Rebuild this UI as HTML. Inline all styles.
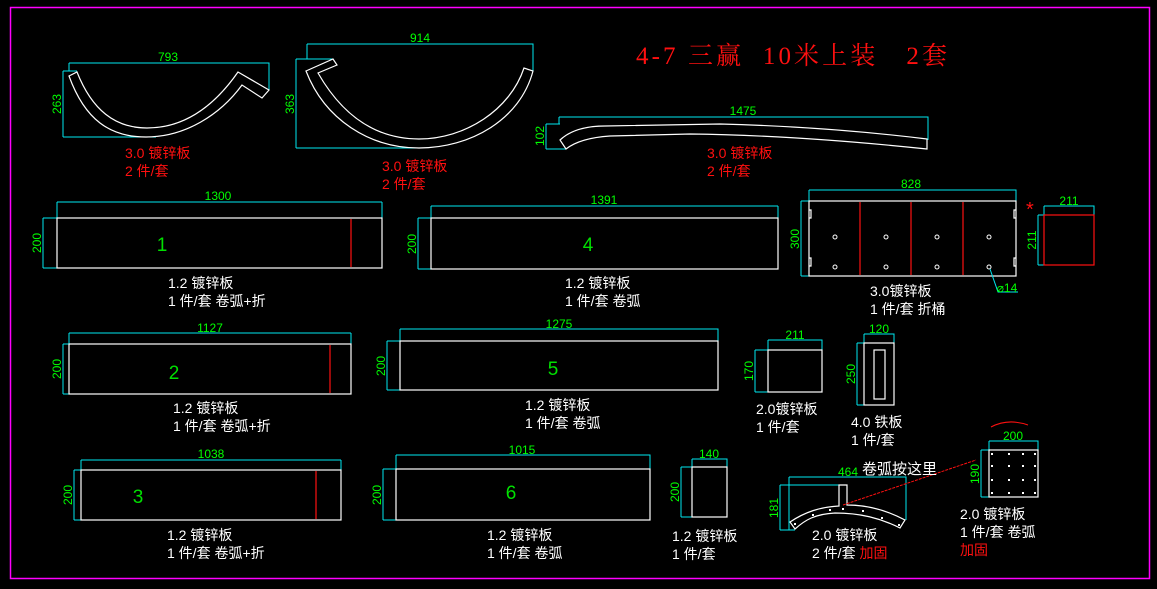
<!DOCTYPE html>
<html><head><meta charset="utf-8"><style>
html,body{margin:0;padding:0;background:#000;}
svg{display:block}
text{font-family:"Liberation Sans","Noto Sans CJK SC",sans-serif;}
.d{fill:#00ff00;font-size:12px;text-anchor:middle}
.w{fill:#fff;font-size:14px}
.r{fill:#ff1010;font-size:14px}
.n{fill:#00e000;font-size:19px;text-anchor:middle}
.c{stroke:#00e8f0;stroke-width:1;fill:none}
.s{stroke:#fff;stroke-width:1.2;fill:none}
.rl{stroke:#ff1010;stroke-width:1.2;fill:none}
</style></head><body>
<svg width="1157" height="589" viewBox="0 0 1157 589" xmlns="http://www.w3.org/2000/svg">
<rect x="0" y="0" width="1157" height="589" fill="#000"/>
<rect x="10.5" y="7.5" width="1139" height="571" fill="none" stroke="#ff00ff" stroke-width="1.5"/>

<text x="636" y="64" fill="#ff1010" font-size="25" textLength="311" lengthAdjust="spacing" style="font-family:'Liberation Serif','Noto Serif CJK SC',serif;white-space:pre" xml:space="preserve">4-7 三赢  10米上装   2套</text>

<!-- Part A 793 -->
<path class="c" d="M69,63 H269 V90 M69,63 V71 M63,71 H77 M63,71 V137 M63,137 H156"/>
<text class="d" x="168" y="61">793</text>
<text class="d" transform="translate(61,104) rotate(-90)">263</text>
<path class="s" d="M69,76 C85,120 110,137 146,137 C185,137 220,115 242,85 L262,98 L269,90 L238,72 C215,105 185,128 147,128 C115,128 92,110 77,72 Z"/>
<text class="r" x="125" y="158">3.0 镀锌板</text>
<text class="r" x="125" y="176">2 件/套</text>

<!-- Part B 914 -->
<path class="c" d="M307,44 H533 V71 M307,44 V59 M296,59 H333 M296,59 V148 M296,148 H419"/>
<text class="d" x="420" y="42">914</text>
<text class="d" transform="translate(294,104) rotate(-90)">363</text>
<path class="s" d="M306,71 L333,59 L337,65 L318,73 C345,120 380,139 419,139 C465,139 510,110 524,68 L533,71 C520,120 470,148 419,148 C370,148 325,120 306,71 Z"/>
<text class="r" x="382" y="171">3.0 镀锌板</text>
<text class="r" x="382" y="189">2 件/套</text>

<!-- Part C 1475 -->
<path class="c" d="M559,117 H928 V140 M559,117 V124 M546,124 H560 M546,124 V149 M546,149 H566"/>
<text class="d" x="743" y="115">1475</text>
<text class="d" transform="translate(544,136) rotate(-90)">102</text>
<path class="s" d="M560,140 Q575,126 605,126 L720,124 C800,126 870,132 927,139 L927,149 C870,143 780,135 690,134 L610,136 Q580,138 566,149 Z"/>
<text class="r" x="707" y="158">3.0 镀锌板</text>
<text class="r" x="707" y="176">2 件/套</text>

<!-- Part 1 -->
<path class="c" d="M57,202 H382 M57,202 V218 M382,202 V218 M43,218 H57 M43,218 V268 M43,268 H57"/>
<rect class="s" x="57" y="218" width="325" height="50"/>
<line class="rl" x1="351" y1="219" x2="351" y2="267"/>
<text class="d" x="218" y="200">1300</text>
<text class="d" transform="translate(41,243) rotate(-90)">200</text>
<text class="n" x="162" y="251">1</text>
<text class="w" x="168" y="288">1.2 镀锌板</text>
<text class="w" x="168" y="306">1 件/套 卷弧+折</text>

<!-- Part 4 -->
<path class="c" d="M431,206 H778 M431,206 V218 M778,206 V218 M418,218 H431 M418,218 V269 M418,269 H431"/>
<rect class="s" x="431" y="218" width="347" height="51"/>
<text class="d" x="604" y="204">1391</text>
<text class="d" transform="translate(416,244) rotate(-90)">200</text>
<text class="n" x="588" y="251">4</text>
<text class="w" x="565" y="288">1.2 镀锌板</text>
<text class="w" x="565" y="306">1 件/套 卷弧</text>

<!-- Part 828 -->
<path class="c" d="M809,190 H1016 V201 M809,190 V201 M801,201 H809 M801,201 V276 M801,276 H809"/>
<rect class="s" x="809" y="201" width="207" height="75"/>
<path class="s" d="M809,210 h2 v8 h-2 M809,258 h2 v8 h-2 M1016,210 h-2 v8 h2 M1016,258 h-2 v8 h2"/>
<line class="rl" x1="860" y1="202" x2="860" y2="275"/>
<line class="rl" x1="911" y1="202" x2="911" y2="275"/>
<line class="rl" x1="963" y1="202" x2="963" y2="275"/>
<g fill="none" stroke="#fff" stroke-width="1">
<circle cx="835" cy="237" r="2"/><circle cx="886" cy="237" r="2"/><circle cx="937" cy="237" r="2"/><circle cx="989" cy="237" r="2"/>
<circle cx="835" cy="267" r="2"/><circle cx="886" cy="267" r="2"/><circle cx="937" cy="267" r="2"/><circle cx="989" cy="267" r="2"/>
</g>
<path class="c" d="M990,269 L998,292 H1018"/>
<text class="d" x="1007" y="292">⌀14</text>
<text class="d" x="911" y="188">828</text>
<text class="d" transform="translate(799,239) rotate(-90)">300</text>
<text class="w" x="870" y="296">3.0镀锌板</text>
<text class="w" x="870" y="314">1 件/套 折桶</text>

<!-- square 211 -->
<path class="c" d="M1044,206 H1094 V215 M1044,206 V215 M1038,215 H1044 M1038,215 V265 M1038,265 H1044"/>
<rect class="rl" x="1044" y="215" width="50" height="50"/>
<text class="d" x="1069" y="205">211</text>
<text class="d" transform="translate(1036,240) rotate(-90)">211</text>
<text x="1026" y="216" fill="#ff1010" font-size="20">*</text>

<!-- Part 2 -->
<path class="c" d="M69,333 H351 M69,333 V344 M351,333 V344 M63,344 H69 M63,344 V394 M63,394 H69"/>
<rect class="s" x="69" y="344" width="282" height="50"/>
<line class="rl" x1="330" y1="345" x2="330" y2="393"/>
<text class="d" x="210" y="332">1127</text>
<text class="d" transform="translate(61,369) rotate(-90)">200</text>
<text class="n" x="174" y="379">2</text>
<text class="w" x="173" y="413">1.2 镀锌板</text>
<text class="w" x="173" y="431">1 件/套 卷弧+折</text>

<!-- Part 5 -->
<path class="c" d="M400,329 H718 V341 M400,329 V341 M387,341 H400 M387,341 V390 M387,390 H400"/>
<rect class="s" x="400" y="341" width="318" height="49"/>
<text class="d" x="559" y="328">1275</text>
<text class="d" transform="translate(385,366) rotate(-90)">200</text>
<text class="n" x="553" y="375">5</text>
<text class="w" x="525" y="410">1.2 镀锌板</text>
<text class="w" x="525" y="428">1 件/套 卷弧</text>

<!-- 211x170 -->
<path class="c" d="M768,340 H822 V350 M768,340 V350 M755,350 H768 M755,350 V392 M755,392 H768"/>
<rect class="s" x="768" y="350" width="54" height="42"/>
<text class="d" x="795" y="339">211</text>
<text class="d" transform="translate(753,371) rotate(-90)">170</text>
<text class="w" x="756" y="414">2.0镀锌板</text>
<text class="w" x="756" y="432">1 件/套</text>

<!-- 120x250 -->
<path class="c" d="M864,334 H894 V343 M864,334 V343 M857,343 H864 M857,343 V405 M857,405 H864"/>
<rect class="s" x="864" y="343" width="30" height="62"/>
<rect class="s" x="874" y="350" width="11" height="49"/>
<text class="d" x="879" y="333">120</text>
<text class="d" transform="translate(855,374) rotate(-90)">250</text>
<text class="w" x="851" y="427">4.0 铁板</text>
<text class="w" x="851" y="445">1 件/套</text>

<!-- Part 3 -->
<path class="c" d="M81,460 H341 M81,460 V470 M341,460 V470 M74,470 H81 M74,470 V520 M74,520 H81"/>
<rect class="s" x="81" y="470" width="260" height="50"/>
<line class="rl" x1="316" y1="471" x2="316" y2="519"/>
<text class="d" x="211" y="458">1038</text>
<text class="d" transform="translate(72,495) rotate(-90)">200</text>
<text class="n" x="138" y="503">3</text>
<text class="w" x="167" y="540">1.2 镀锌板</text>
<text class="w" x="167" y="558">1 件/套 卷弧+折</text>

<!-- Part 6 -->
<path class="c" d="M396,455 H650 V469 M396,455 V469 M383,469 H396 M383,469 V520 M383,520 H396"/>
<rect class="s" x="396" y="469" width="254" height="51"/>
<text class="d" x="522" y="454">1015</text>
<text class="d" transform="translate(381,495) rotate(-90)">200</text>
<text class="n" x="511" y="499">6</text>
<text class="w" x="487" y="540">1.2 镀锌板</text>
<text class="w" x="487" y="558">1 件/套 卷弧</text>

<!-- 140x200 -->
<path class="c" d="M692,459 H727 V467 M692,459 V467 M681,467 H692 M681,467 V517 M681,517 H692"/>
<rect class="s" x="692" y="467" width="35" height="50"/>
<text class="d" x="709" y="458">140</text>
<text class="d" transform="translate(679,492) rotate(-90)">200</text>
<text class="w" x="672" y="541">1.2 镀锌板</text>
<text class="w" x="672" y="559">1 件/套</text>

<!-- 464 part -->
<path class="c" d="M789,477 H906 V520 M789,477 V530 M780,485 H839 M780,485 V530 M780,530 H795"/>
<path class="s" d="M839,485 H847 V505 C870,505 890,512 905,520 L900,528 C880,518 860,513 835,513 C815,514 805,520 795,529 L790,522 C805,512 820,507 839,506 Z"/>
<g fill="#fff"><rect x="794" y="523" width="2" height="2"/><rect x="812" y="514" width="2" height="2"/><rect x="829" y="509" width="2" height="2"/><rect x="842" y="508" width="2" height="2"/><rect x="862" y="510" width="2" height="2"/><rect x="881" y="517" width="2" height="2"/><rect x="898" y="524" width="2" height="2"/></g>
<line x1="843" y1="505" x2="976" y2="460" stroke="#ff1010" stroke-width="1" stroke-dasharray="3,1"/>
<text class="d" x="848" y="476">464</text>
<text class="d" transform="translate(778,508) rotate(-90)">181</text>
<text class="w" x="862" y="474" style="font-size:15px">卷弧按这里</text>
<text class="w" x="812" y="540">2.0 镀锌板</text>
<text class="w" x="812" y="558">2 件/套 <tspan fill="#ff1010">加固</tspan></text>

<!-- 200x190 -->
<path class="c" d="M989,441 H1038 V450 M989,441 V450 M981,450 H989 M981,450 V497 M981,497 H989"/>
<rect class="s" x="989" y="450" width="49" height="47"/>
<g fill="#fff">
<rect x="991" y="453" width="2" height="2"/><rect x="1008" y="453" width="2" height="2"/><rect x="1022" y="453" width="2" height="2"/><rect x="1034" y="453" width="2" height="2"/>
<rect x="991" y="465" width="2" height="2"/><rect x="1008" y="465" width="2" height="2"/><rect x="1022" y="465" width="2" height="2"/><rect x="1034" y="465" width="2" height="2"/>
<rect x="991" y="479" width="2" height="2"/><rect x="1008" y="479" width="2" height="2"/><rect x="1022" y="479" width="2" height="2"/><rect x="1034" y="479" width="2" height="2"/>
<rect x="991" y="492" width="2" height="2"/><rect x="1008" y="492" width="2" height="2"/><rect x="1022" y="492" width="2" height="2"/><rect x="1034" y="492" width="2" height="2"/>
</g>
<path d="M991,427 Q1008,418 1028,425" stroke="#ff1010" fill="none" stroke-width="1"/>
<text class="d" x="1013" y="440">200</text>
<text class="d" transform="translate(979,474) rotate(-90)">190</text>
<text class="w" x="960" y="519">2.0 镀锌板</text>
<text class="w" x="960" y="537">1 件/套 卷弧</text>
<text class="r" x="960" y="555">加固</text>
</svg>
</body></html>
